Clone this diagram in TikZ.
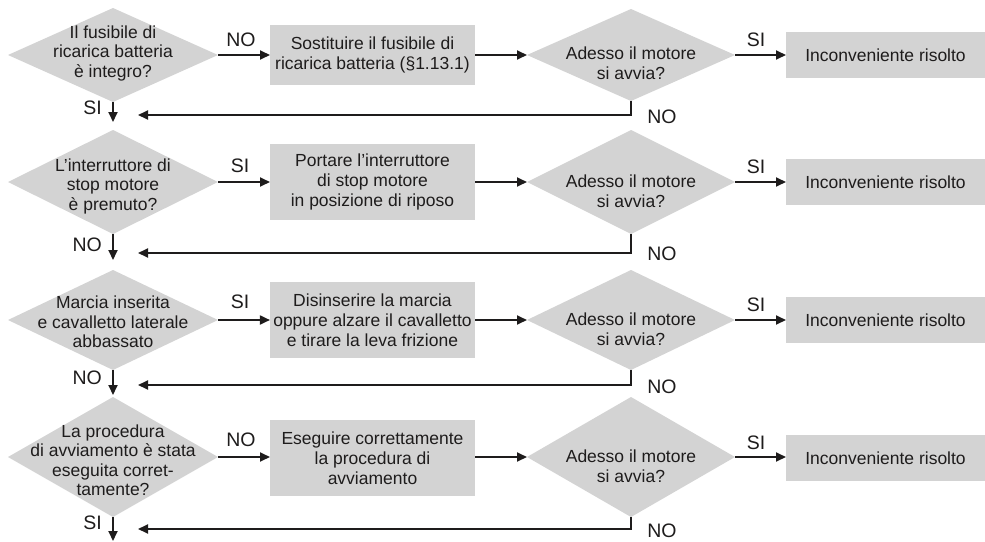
\documentclass[tikz,border=0pt]{standalone}
\usepackage{fontspec}
\setmainfont{Liberation Sans}
\usetikzlibrary{shapes.geometric,arrows.meta}
\definecolor{boxgray}{RGB}{211,211,211}
\definecolor{ink}{RGB}{30,28,28}
\begin{document}
\begin{tikzpicture}[x=1pt,y=-1pt,
  dia/.style={diamond, fill=boxgray, inner sep=0pt, outer sep=0pt, minimum width=210pt},
  rdia/.style={diamond, fill=boxgray, inner sep=0pt, outer sep=0pt, minimum width=208pt},
  txt/.style={align=center, font=\fontsize{17.5}{19.5}\selectfont, text=ink, inner sep=0pt},
  actbox/.style={rectangle, fill=boxgray, outer sep=0pt, minimum width=205pt, align=center, font=\fontsize{17.5}{20}\selectfont, text=ink},
  okbox/.style={rectangle, fill=boxgray, outer sep=0pt, minimum width=199pt, minimum height=46pt, font=\fontsize{17.5}{20}\selectfont, text=ink},
  lab/.style={font=\fontsize{19.5}{22}\selectfont, text=ink, inner sep=0pt},
  arr/.style={line width=1.8pt, draw=ink, -{Triangle[length=10pt,width=9pt]}},
]
\useasboundingbox (0,0) rectangle (985,541);

% ---------- Row 1 ----------
\node[dia, minimum height=94pt] (q1) at (113,55) {};
\node[txt] (q1t) at (113,53) {Il fusibile di\\ricarica batteria\\è integro?};
\node[actbox, minimum height=60pt] (b1) at (372.5,55) {Sostituire il fusibile di\\ricarica batteria (§1.13.1)};
\node[rdia, minimum height=92pt] (r1) at (631,55) {};
\node[txt] (r1t) at (631,63) {Adesso il motore\\si avvia?};
\node[okbox] (k1) at (885.5,55) {Inconveniente risolto};
\coordinate (ret1) at (138,115);
\node[lab] (l1a) at (241,40) {NO};
\node[lab] (l1b) at (756,40) {SI};
\node[lab] (l1c) at (662,117) {NO};
\node[lab, anchor=east] (l1d) at (102,108) {SI};
\draw[arr] (q1.east) -- (b1.west);
\draw[arr] (b1.east) -- (r1.west);
\draw[arr] (r1.east) -- (k1.west);
\draw[arr] (r1.south) |- (ret1);

% ---------- Row 2 ----------
\node[dia, minimum height=104pt] (q2) at (113,182) {};
\node[txt] (q2t) at (113,186) {L’interruttore di\\stop motore\\è premuto?};
\node[actbox, minimum height=76pt] (b2) at (372.5,182) {Portare l’interruttore\\di stop motore\\in posizione di riposo};
\node[rdia, minimum height=104pt] (r2) at (631,182) {};
\node[txt] (r2t) at (631,191) {Adesso il motore\\si avvia?};
\node[okbox] (k2) at (885.5,182) {Inconveniente risolto};
\coordinate (ret2) at (138,253);
\node[lab] (l2a) at (240,166) {SI};
\node[lab] (l2b) at (756,167) {SI};
\node[lab] (l2c) at (662,254) {NO};
\node[lab, anchor=east] (l2d) at (102,245) {NO};
\draw[arr] (q2.east) -- (b2.west);
\draw[arr] (b2.east) -- (r2.west);
\draw[arr] (r2.east) -- (k2.west);
\draw[arr] (r2.south) |- (ret2);

% ---------- Row 3 ----------
\node[dia, minimum height=100pt] (q3) at (113,320) {};
\node[txt] (q3t) at (113,322) {Marcia inserita\\e cavalletto laterale\\abbassato};
\node[actbox, minimum height=76pt] (b3) at (372.5,320) {Disinserire la marcia\\oppure alzare il cavalletto\\e tirare la leva frizione};
\node[rdia, minimum height=100pt] (r3) at (631,320) {};
\node[txt] (r3t) at (631,329) {Adesso il motore\\si avvia?};
\node[okbox] (k3) at (885.5,320) {Inconveniente risolto};
\coordinate (ret3) at (138,385);
\node[lab] (l3a) at (240,302) {SI};
\node[lab] (l3b) at (756,305) {SI};
\node[lab] (l3c) at (662,387) {NO};
\node[lab, anchor=east] (l3d) at (102,378) {NO};
\draw[arr] (q3.east) -- (b3.west);
\draw[arr] (b3.east) -- (r3.west);
\draw[arr] (r3.east) -- (k3.west);
\draw[arr] (r3.south) |- (ret3);

% ---------- Row 4 ----------
\node[dia, minimum height=120pt] (q4) at (113,457) {};
\node[txt] (q4t) at (113,460) {La procedura\\di avviamento è stata\\eseguita corret-\\tamente?};
\node[actbox, minimum height=76pt] (b4) at (372.5,458) {Eseguire correttamente\\la procedura di\\avviamento};
\node[rdia, minimum height=120pt] (r4) at (631,457) {};
\node[txt] (r4t) at (631,466) {Adesso il motore\\si avvia?};
\node[okbox] (k4) at (885.5,458) {Inconveniente risolto};
\coordinate (ret4) at (138,529);
\coordinate (exit) at (113,541);
\node[lab] (l4a) at (241,440) {NO};
\node[lab] (l4b) at (756,443) {SI};
\node[lab] (l4c) at (662,531) {NO};
\node[lab, anchor=east] (l4d) at (102,523) {SI};
\draw[arr] (q4.east) -- (q4.east -| b4.west);
\draw[arr] (b4.east |- r4.west) -- (r4.west);
\draw[arr] (r4.east) -- (r4.east -| k4.west);
\draw[arr] (r4.south) |- (ret4);

% ---------- vertical flow ----------
\draw[arr, shorten >=8pt] (q1.south) -- (q2.north);
\draw[arr, shorten >=10pt] (q2.south) -- (q3.north);
\draw[arr, shorten >=2pt] (q3.south) -- (q4.north);
\draw[arr] (q4.south) -- (exit);
\end{tikzpicture}
\end{document}
